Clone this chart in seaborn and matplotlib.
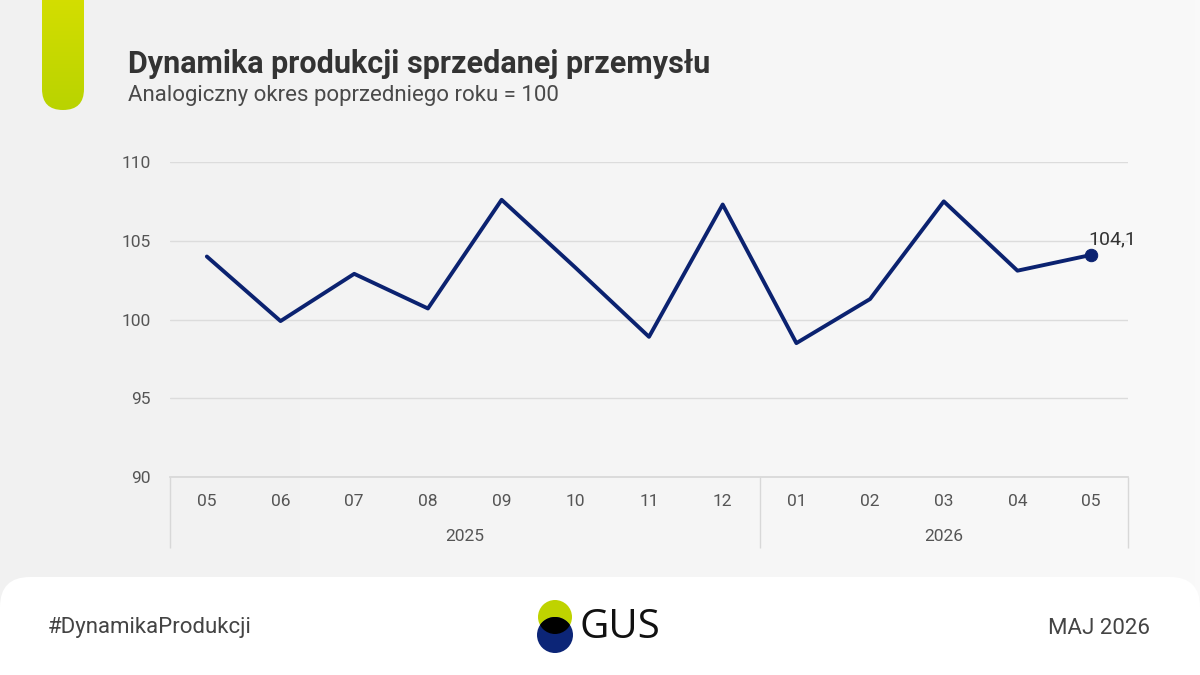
import numpy as np
import pandas as pd
import matplotlib.pyplot as plt
import seaborn as sns
from matplotlib.patches import FancyBboxPatch, Circle
from matplotlib.colors import LinearSegmentedColormap
from matplotlib.transforms import blended_transform_factory

# ------------------ DANE ------------------
months = ["05", "06", "07", "08", "09", "10", "11", "12", "01", "02", "03", "04", "05"]
years = ["2025"] * 8 + ["2026"] * 5
values = [104.0, 99.9, 102.9, 100.7, 107.6, 103.3, 98.9, 107.3, 98.5, 101.3, 107.5, 103.1, 104.1]
year_labels = ["2025", "2026"]
y_ticks = [90, 95, 100, 105, 110]

df = pd.DataFrame({"pos": range(len(months)), "miesiac": months, "rok": years, "wartosc": values})

# ------------------ ESTILO ------------------
sns.set_theme(style="white")
plt.rcParams["font.family"] = ["Roboto", "DejaVu Sans"]

navy = "#0b2270"
W, H = 1200, 675
fig = plt.figure(figsize=(12, 6.75), dpi=100)

# fondo
bg = fig.add_axes([0, 0, 1, 1], zorder=0)
bg.set_xlim(0, W)
bg.set_ylim(H, 0)
bg.axis("off")
grad = np.linspace(0, 1, 256).reshape(1, -1)
bg.imshow(grad, extent=[0, W, H, 0], aspect="auto",
          cmap=LinearSegmentedColormap.from_list("bg", ["#f1f1f1", "#f9f9f9"]))

# barra verde
bar = FancyBboxPatch((42, -40), 42, 150, boxstyle="round,pad=0,rounding_size=21",
                     fc="none", ec="none")
bg.add_patch(bar)
vgrad = np.linspace(0, 1, 256).reshape(-1, 1)
im = bg.imshow(vgrad, extent=[42, 84, 110, -40], aspect="auto",
               cmap=LinearSegmentedColormap.from_list("g", ["#dde200", "#b9d300"]))
im.set_clip_path(bar)

# panel inferior blanco
bg.add_patch(FancyBboxPatch((0, 577), W, 160, boxstyle="round,pad=0,rounding_size=30",
                            fc="white", ec="none"))

# logo GUS
green_c = Circle((555, 617), 17, fc="#bfd300", ec="none")
bg.add_patch(green_c)
bg.add_patch(Circle((555, 635), 18, fc="#0c2577", ec="none"))
lens = Circle((555, 635), 18, fc="black", ec="none")
bg.add_patch(lens)
lens.set_clip_path(green_c)
bg.text(579, 628, "GUS", fontsize=29, va="center", ha="left", color="#111",
        family=["Open Sans", "DejaVu Sans"])

# ------------------ GRAFICO ------------------
ax = fig.add_axes([170 / W, (H - 477) / H, 958 / W, 315 / H], zorder=2)
ax.patch.set_alpha(0)

sns.lineplot(data=df, x="pos", y="wartosc", color=navy, linewidth=2.8, ax=ax)
sns.scatterplot(data=df.iloc[[-1]], x="pos", y="wartosc", color=navy, s=80,
                edgecolor=navy, ax=ax, zorder=3)

ax.set_xlim(-0.5, len(months) - 0.5)
ax.set_ylim(90, 110)
ax.set_yticks(y_ticks)
ax.set_xticks(df["pos"])
ax.set_xticklabels(df["miesiac"])
ax.set_xlabel("")
ax.set_ylabel("")
ax.yaxis.grid(True, color="#dcdcdc", linewidth=1)
ax.xaxis.grid(False)
for s in ["top", "right", "left"]:
    ax.spines[s].set_visible(False)
ax.spines["bottom"].set_color("#d8d8d8")
ax.tick_params(axis="y", length=0, pad=14, labelsize=12.5, labelcolor="#555")
ax.tick_params(axis="x", length=0, pad=12, labelsize=12.5, labelcolor="#555")

# separadores y años
trans = blended_transform_factory(ax.transData, ax.transAxes)
bounds = [-0.5, 7.5, len(months) - 0.5]
ax.vlines(bounds, -0.225, 0, transform=trans, color="#d8d8d8", lw=1, clip_on=False)
for yr in year_labels:
    xm = df.loc[df["rok"] == yr, "pos"].mean()
    ax.text(xm, -0.19, yr, transform=trans, ha="center", va="center",
            fontsize=12.5, color="#555")

# etiqueta último valor
last = df.iloc[-1]
ax.annotate(f"{last['wartosc']:.1f}".replace(".", ","), (last["pos"], last["wartosc"]),
            xytext=(-2, 5), textcoords="offset points", ha="left", va="bottom",
            fontsize=14, color="#333")

# ------------------ TEXTOS ------------------
fig.text(128 / W, 1 - 64 / H, "Dynamika produkcji sprzedanej przemysłu",
         fontsize=22, fontweight="bold", color="#333", va="center")
fig.text(128 / W, 1 - 95 / H, "Analogiczny okres poprzedniego roku = 100",
         fontsize=16, fontweight="normal", color="#4a4a4a", va="center")
fig.text(48 / W, 1 - 628 / H, "#DynamikaProdukcji", fontsize=16, color="#444", va="center")
fig.text(1150 / W, 1 - 628 / H, "MAJ 2026", fontsize=16, color="#444", va="center", ha="right")

fig.savefig("out.png", dpi=100)
plt.close()
